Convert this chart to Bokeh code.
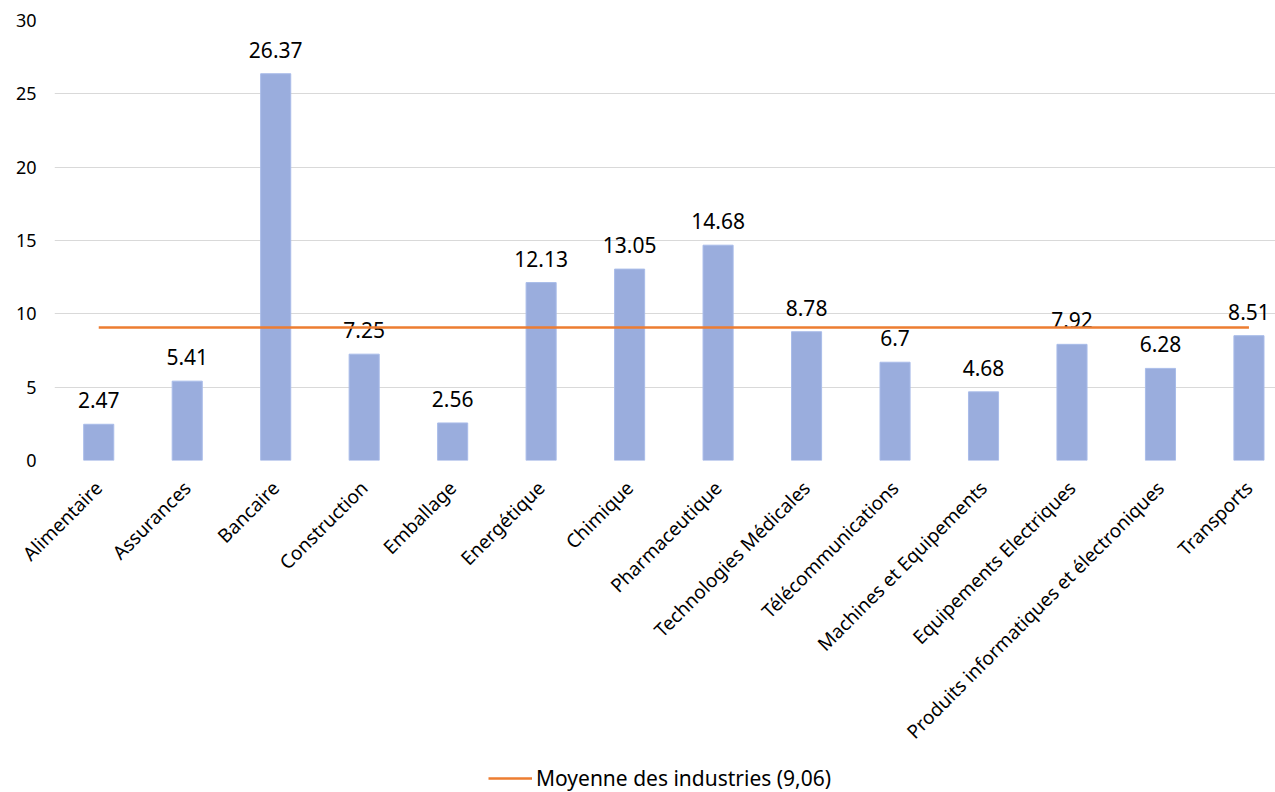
import math
from bokeh.plotting import figure
from bokeh.layouts import column
from bokeh.models import ColumnDataSource, Legend, LegendItem, FixedTicker, Range1d
from bokeh.core.properties import value
from bokeh.embed import file_html
from bokeh.resources import INLINE

categories = ["Alimentaire", "Assurances", "Bancaire", "Construction", "Emballage",
              "Energétique", "Chimique", "Pharmaceutique", "Technologies Médicales",
              "Télécommunications", "Machines et Equipements", "Equipements Electriques",
              "Produits informatiques et électroniques", "Transports"]
values = [2.47, 5.41, 26.37, 7.25, 2.56, 12.13, 13.05, 14.68, 8.78, 6.7, 4.68, 7.92, 6.28, 8.51]
labels = ["2.47", "5.41", "26.37", "7.25", "2.56", "12.13", "13.05", "14.68", "8.78",
          "6.7", "4.68", "7.92", "6.28", "8.51"]
mean_value = 9.06
mean_label = "Moyenne des industries (9,06)"
y_ticks = [0, 5, 10, 15, 20, 25, 30]

FONT = "Noto Sans"
MEAN_COLOR = "#ed7d31"
xs = list(range(len(categories)))
src = ColumnDataSource(dict(x=xs, top=values, lab=labels))

p = figure(width=1275, height=762, output_backend="svg", toolbar_location=None,
           x_range=Range1d(-0.5, 13.3), y_range=Range1d(0, 30))
p.min_border_left = 54
p.min_border_right = 0
p.min_border_top = 20
p.min_border_bottom = 302
p.outline_line_color = None

p.vbar(x="x", top="top", width=0.34, source=src, fill_color="#9aaddd",
       line_color="#a9bce9", line_width=1)
p.text(x="x", y="top", text="lab", source=src, text_align="center",
       text_baseline="bottom", y_offset=-16, text_font=value(FONT),
       text_font_size="21px", text_color="#000000")

p.line(x=[xs[0], xs[-1]], y=[mean_value, mean_value], line_color=MEAN_COLOR, line_width=2.5)

p.xaxis.ticker = FixedTicker(ticks=xs)
p.xaxis.major_label_overrides = {i: c for i, c in enumerate(categories)}
p.xaxis.major_label_orientation = math.pi / 4
p.xaxis.axis_line_color = None
p.xaxis.major_tick_line_color = None
p.xaxis.minor_tick_line_color = None
p.xaxis.major_label_text_font = FONT
p.xaxis.major_label_text_font_size = "19px"
p.xaxis.major_label_text_color = "#000000"
p.xaxis.major_label_standoff = 18

p.yaxis.ticker = FixedTicker(ticks=y_ticks)
p.yaxis.axis_line_color = None
p.yaxis.major_tick_line_color = None
p.yaxis.minor_tick_line_color = None
p.yaxis.major_label_text_font = FONT
p.yaxis.major_label_text_font_size = "18px"
p.yaxis.major_label_text_color = "#000000"
p.yaxis.major_label_standoff = 12

p.xgrid.grid_line_color = None
p.ygrid.grid_line_color = "#d9d9d9"
p.ygrid.grid_line_width = 1

# legend strip below the chart (dummy renderer kept outside its visible range)
lf = figure(width=1275, height=30, output_backend="svg", toolbar_location=None,
            x_range=Range1d(0, 1), y_range=Range1d(0, 1))
lf.axis.visible = False
lf.grid.grid_line_color = None
lf.outline_line_color = None
lf.min_border = 0
lr = lf.line(x=[-2, -1], y=[-2, -2], line_color=MEAN_COLOR, line_width=2.5)
legend = Legend(items=[LegendItem(label=mean_label, renderers=[lr])],
                location=(434, 0), orientation="horizontal",
                label_text_font=FONT, label_text_font_size="21px",
                label_text_color="#000000", glyph_width=44, label_standoff=4,
                background_fill_alpha=0, border_line_color=None, padding=2, margin=0)
lf.add_layout(legend, "center")

layout = column(p, lf, spacing=0)
open("out.html", "w").write(file_html(layout, INLINE))
